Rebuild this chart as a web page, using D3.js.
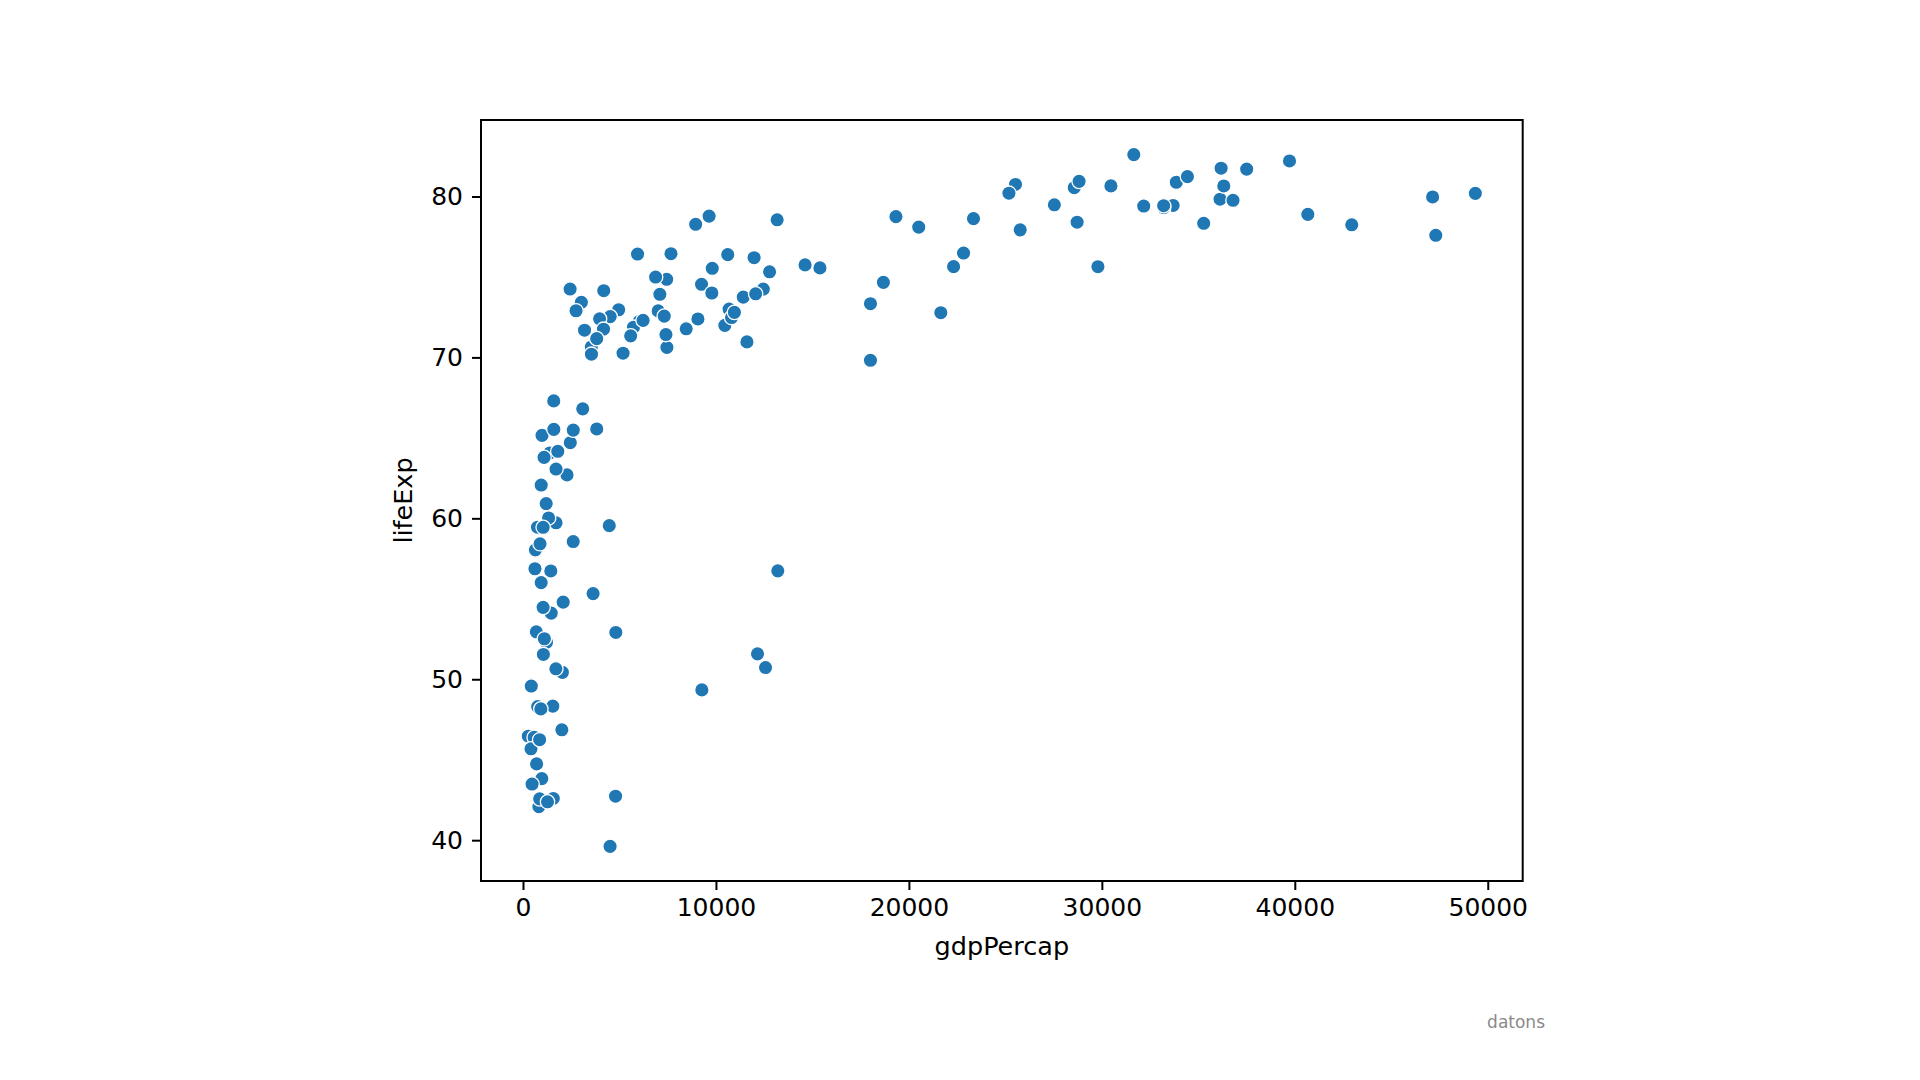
<!DOCTYPE html>
<html>
<head>
<meta charset="utf-8">
<script src="https://cdn.jsdelivr.net/npm/d3@7"></script>
<style>
  body { margin: 0; background: #fff; }
  svg { display: block; }
  .tick text { font-family: "DejaVu Sans", sans-serif; }
</style>
</head>
<body>
<div id="chart"></div>
<script>
// gapminder 2007, one entry per country
var country = ["Afghanistan","Bahrain","Bangladesh","Cambodia","China","Hong Kong","India","Indonesia","Iran","Iraq",
  "Israel","Japan","Jordan","Korea Dem. Rep.","Korea Rep.","Kuwait","Lebanon","Malaysia","Mongolia","Myanmar",
  "Nepal","Oman","Pakistan","Philippines","Saudi Arabia","Singapore","Sri Lanka","Syria","Taiwan","Thailand",
  "Vietnam","West Bank and Gaza","Yemen",
  "Albania","Austria","Belgium","Bosnia and Herzegovina","Bulgaria","Croatia","Czech Republic","Denmark","Finland","France",
  "Germany","Greece","Hungary","Iceland","Ireland","Italy","Montenegro","Netherlands","Norway","Poland",
  "Portugal","Romania","Serbia","Slovak Republic","Slovenia","Spain","Sweden","Switzerland","Turkey","United Kingdom",
  "Argentina","Bolivia","Brazil","Canada","Chile","Colombia","Costa Rica","Cuba","Dominican Republic","Ecuador",
  "El Salvador","Guatemala","Haiti","Honduras","Jamaica","Mexico","Nicaragua","Panama","Paraguay","Peru",
  "Puerto Rico","Trinidad and Tobago","United States","Uruguay","Venezuela",
  "Australia","New Zealand",
  "Algeria","Angola","Benin","Botswana","Burkina Faso","Burundi","Cameroon","Central African Republic","Chad","Comoros",
  "Congo Dem. Rep.","Congo Rep.","Cote d'Ivoire","Djibouti","Egypt","Equatorial Guinea","Eritrea","Ethiopia","Gabon","Gambia",
  "Ghana","Guinea","Guinea-Bissau","Kenya","Lesotho","Liberia","Libya","Madagascar","Malawi","Mali",
  "Mauritania","Mauritius","Morocco","Mozambique","Namibia","Niger","Nigeria","Reunion","Rwanda","Sao Tome and Principe",
  "Senegal","Sierra Leone","Somalia","South Africa","Sudan","Swaziland","Tanzania","Togo","Tunisia","Uganda",
  "Zambia","Zimbabwe"];

var gdpPercap = [974.58,29796.05,1391.25,1713.78,4959.11,39724.98,2452.21,3540.65,11605.71,4471.06,
  25523.28,31656.07,4519.46,1593.07,23348.14,47306.99,10461.06,12451.66,3095.77,944.00,
  1091.36,22316.19,2605.95,3190.48,21654.83,47143.18,3970.10,4184.55,28718.28,7458.40,
  2441.58,3025.35,2280.77,
  5937.03,36126.49,33692.61,7446.30,10680.79,14619.22,22833.31,35278.42,33207.08,30470.02,
  32170.37,27538.41,18008.94,36180.79,40675.00,28569.72,9253.90,36797.93,49357.19,15389.92,
  20509.65,10808.48,9786.53,18678.31,25768.26,28821.06,33859.75,37506.42,8458.28,33203.26,
  12779.38,3822.14,9065.80,36319.24,13171.64,7006.58,9645.06,8948.10,6025.37,6873.26,
  5728.35,5186.05,1201.64,3548.33,7320.88,11977.57,2749.32,9809.19,4172.84,7408.91,
  19328.71,18008.51,42951.65,10611.46,11415.81,
  34435.37,25185.01,
  6223.37,4797.23,1441.28,12569.85,1217.03,430.07,2042.10,706.02,1704.06,986.15,
  277.55,3632.56,1544.75,2082.48,5581.18,12154.09,641.37,690.81,13206.48,752.75,
  1327.61,942.65,579.23,1463.25,1569.33,414.51,12057.50,1044.77,759.35,1042.58,
  1803.15,10956.99,3820.18,823.69,4811.06,619.68,2013.98,7670.12,863.09,1598.44,
  1712.47,862.54,926.14,9269.66,2602.39,4513.48,1107.48,882.97,7092.92,1056.38,
  1271.21,469.71];

var lifeExp = [43.828,75.635,64.062,59.723,72.961,82.208,64.698,70.650,70.964,59.545,
  80.745,82.603,72.535,67.297,78.623,77.588,71.993,74.241,66.803,62.069,
  63.785,75.640,65.483,71.688,72.777,79.972,72.396,74.143,78.400,70.616,
  74.249,73.422,62.698,
  76.423,79.829,79.441,74.852,73.005,75.748,76.486,78.332,79.313,80.657,
  79.406,79.483,73.338,81.757,78.885,80.546,74.543,79.762,80.196,75.563,
  78.098,72.476,74.002,74.663,77.926,80.941,80.884,81.701,71.777,79.425,
  75.320,65.554,72.390,80.653,78.553,72.889,78.782,78.273,72.235,74.994,
  71.878,70.259,60.916,70.198,72.567,76.195,72.899,75.537,71.752,71.421,
  78.746,69.819,78.242,76.384,73.747,
  81.235,80.204,
  72.301,42.731,56.728,50.728,52.295,49.580,50.430,44.741,50.651,65.152,
  46.462,55.322,48.328,54.791,71.338,51.579,58.040,52.947,56.735,59.448,
  60.022,56.007,46.388,54.110,42.592,45.678,73.952,59.443,48.303,54.467,
  64.164,72.801,71.164,42.082,52.906,56.867,46.859,76.442,46.242,65.528,
  63.062,42.568,48.159,49.339,58.556,39.613,52.517,58.420,73.923,51.542,
  42.384,43.487];

var xTicks = [0, 10000, 20000, 30000, 40000, 50000];
var yTicks = [40, 50, 60, 70, 80];

var W = 1920, H = 1080;
var margin = {left: 481, top: 120, right: 1920 - 1522.7, bottom: 1080 - 881};
var iw = W - margin.left - margin.right,
    ih = H - margin.top - margin.bottom;

var points = d3.range(country.length).map(function(i) {
    return {name: country[i], x: gdpPercap[i], y: lifeExp[i]};
});

// 5% padding like matplotlib autoscale
function pad(ext) {
    var d = (ext[1] - ext[0]) * 0.05;
    return [ext[0] - d, ext[1] + d];
}

var x = d3.scaleLinear().domain(pad(d3.extent(gdpPercap))).range([0, iw]);
var y = d3.scaleLinear().domain(pad(d3.extent(lifeExp))).range([ih, 0]);

var svg = d3.select("#chart").append("svg")
    .attr("width", W)
    .attr("height", H);

var g = svg.append("g")
    .attr("transform", "translate(" + margin.left + "," + margin.top + ")");

g.selectAll("circle.dot")
    .data(points)
    .enter()
    .append("circle")
    .attr("class", "dot")
    .attr("cx", function(d) { return x(d.x); })
    .attr("cy", function(d) { return y(d.y); })
    .attr("r", 7.2)
    .attr("fill", "#1f77b4")
    .attr("stroke", "#fff")
    .attr("stroke-width", 1.3);

var xAxis = g.append("g")
    .attr("transform", "translate(0," + ih + ")")
    .call(d3.axisBottom(x).tickValues(xTicks).tickFormat(d3.format("d")).tickSize(9).tickPadding(8));

var yAxis = g.append("g")
    .call(d3.axisLeft(y).tickValues(yTicks).tickFormat(d3.format("d")).tickSize(9).tickPadding(9));

[xAxis, yAxis].forEach(function(a) {
    a.select(".domain").remove();
    a.selectAll(".tick line").attr("stroke", "#000").attr("stroke-width", 2);
    a.selectAll(".tick text").attr("fill", "#000").style("font-size", "25px");
});

// frame
g.append("rect")
    .attr("x", 0).attr("y", 0)
    .attr("width", iw).attr("height", ih)
    .attr("fill", "none")
    .attr("stroke", "#000")
    .attr("stroke-width", 2);

g.append("text")
    .attr("x", iw / 2)
    .attr("y", ih + 74)
    .attr("text-anchor", "middle")
    .style("font-family", "DejaVu Sans, sans-serif")
    .style("font-size", "25.5px")
    .text("gdpPercap");

g.append("text")
    .attr("transform", "translate(" + (-69) + "," + (ih / 2) + ") rotate(-90)")
    .attr("text-anchor", "middle")
    .style("font-family", "DejaVu Sans, sans-serif")
    .style("font-size", "25.5px")
    .text("lifeExp");

svg.append("text")
    .attr("x", 1545)
    .attr("y", 1028)
    .attr("text-anchor", "end")
    .attr("fill", "#8a8a8a")
    .style("font-family", "DejaVu Sans, sans-serif")
    .style("font-size", "17px")
    .text("datons");
</script>
</body>
</html>
